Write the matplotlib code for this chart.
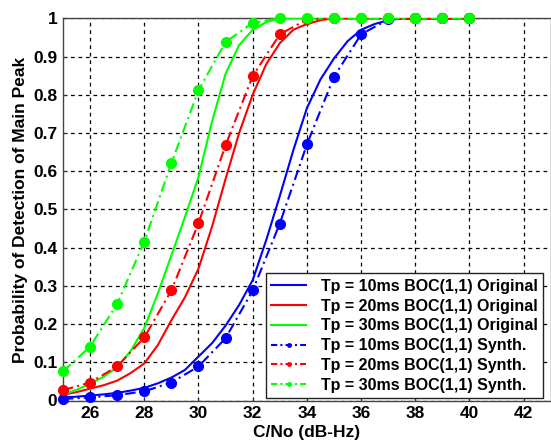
import matplotlib
matplotlib.use("Agg")
import matplotlib.pyplot as plt
from matplotlib.lines import Line2D

plt.rcParams['font.family'] = ['Liberation Sans', 'DejaVu Sans']

# Synthesized (markers every 1 dB)
x_syn = [25, 26, 27, 28, 29, 30, 31, 32, 33, 34, 35, 36, 37, 38, 39, 40]
blue_syn = [0.004, 0.008, 0.014, 0.024, 0.047, 0.089, 0.163, 0.288, 0.463, 0.670,
            0.847, 0.958, 0.997, 1.0, 1.0, 1.0]
red_syn = [0.027, 0.047, 0.089, 0.165, 0.288, 0.464, 0.668, 0.849, 0.958, 0.997,
           1.0, 1.0, 1.0, 1.0, 1.0, 1.0]
green_syn = [0.076, 0.141, 0.253, 0.416, 0.621, 0.812, 0.938, 0.988, 1.0, 1.0,
             1.0, 1.0, 1.0, 1.0, 1.0, 1.0]

# Original curves (0.5 dB steps)
x_orig = [25, 25.5, 26, 26.5, 27, 27.5, 28, 28.5, 29, 29.5, 30, 30.5, 31, 31.5,
          32, 32.5, 33, 33.5, 34, 34.5, 35, 35.5, 36, 36.5, 37, 37.5, 38, 39, 40]
blue_orig = [0.008, 0.010, 0.013, 0.016, 0.020, 0.026, 0.033, 0.045, 0.060, 0.080,
             0.115, 0.150, 0.196, 0.250, 0.315, 0.420, 0.535, 0.655, 0.765, 0.840,
             0.895, 0.940, 0.970, 0.985, 0.995, 1.0, 1.0, 1.0, 1.0]
red_orig = [0.015, 0.022, 0.031, 0.040, 0.052, 0.072, 0.097, 0.145, 0.210, 0.270,
            0.345, 0.455, 0.580, 0.700, 0.800, 0.880, 0.935, 0.970, 0.985, 0.995,
            1.0, 1.0, 1.0, 1.0, 1.0, 1.0, 1.0, 1.0, 1.0]
green_orig = [0.015, 0.028, 0.044, 0.062, 0.087, 0.130, 0.190, 0.280, 0.380, 0.480,
              0.585, 0.730, 0.855, 0.930, 0.970, 0.990, 1.0, 1.0, 1.0, 1.0,
              1.0, 1.0, 1.0, 1.0, 1.0, 1.0, 1.0, 1.0, 1.0]

labels_orig = ["Tp = 10ms BOC(1,1) Original", "Tp = 20ms BOC(1,1) Original",
               "Tp = 30ms BOC(1,1) Original"]
labels_syn = ["Tp = 10ms BOC(1,1) Synth.", "Tp = 20ms BOC(1,1) Synth.",
              "Tp = 30ms BOC(1,1) Synth."]
colors = ["#0000ff", "#ff0000", "#00ff00"]

xticks = [26, 28, 30, 32, 34, 36, 38, 40, 42]
yticks = [0, 0.1, 0.2, 0.3, 0.4, 0.5, 0.6, 0.7, 0.8, 0.9, 1]
ytick_labels = ["0", "0.1", "0.2", "0.3", "0.4", "0.5", "0.6", "0.7", "0.8", "0.9", "1"]

fig = plt.figure(figsize=(5.51, 4.43), dpi=100)
ax_w = 487.8 / 551
ax = fig.add_axes([63 / 551, 42.5 / 443, ax_w, 382.2 / 443])

for y, c in zip([blue_orig, red_orig, green_orig], colors):
    ax.plot(x_orig, y, color=c, lw=1.5, zorder=3)
for y, c in zip([blue_syn, red_syn, green_syn], colors):
    ax.plot(x_syn, y, color=c, lw=1.5, ls=(0, (5, 2, 1, 2)), zorder=3)
    ax.plot(x_syn, y, color=c, ls='none', marker='o', ms=7, zorder=4, clip_on=False)

ax.set_xlim(25, 43)
ax.set_ylim(0, 1)
ax.set_xticks(xticks)
ax.set_yticks(yticks)
ax.set_yticklabels(ytick_labels)
ax.tick_params(direction='in', length=3, width=0.8, labelsize=12.5, pad=4, color='#333333')
for lab in ax.get_xticklabels() + ax.get_yticklabels():
    lab.set_fontweight('bold')
ax.grid(True, color='black', ls=(0, (3, 3)), lw=0.9)
for s in ax.spines.values():
    s.set_color('#444444')
    s.set_linewidth(1.0)

ax.set_xlabel("C/No (dB-Hz)", fontsize=12.5, fontweight='bold', labelpad=3)
ax.set_ylabel("Probability of Detection of Main Peak", fontsize=12.5, fontweight='bold', labelpad=4)

handles = [Line2D([], [], color=c, lw=1.5) for c in colors] + \
          [Line2D([], [], color=c, lw=1.5, ls=(0, (3, 1.5, 1, 1.5)), marker='.', ms=5) for c in colors]
right_anchor = (543.3 - 63) / 487.8
leg = ax.legend(handles, labels_orig + labels_syn, loc='lower right',
                bbox_to_anchor=(right_anchor, (400.5 - 398.3) / 382.2),
                prop={'weight': 'bold', 'size': 11.5}, frameon=True, fancybox=False,
                edgecolor='#222222', framealpha=1, handlelength=2.2, handletextpad=0.9,
                labelspacing=0.3, borderpad=0.35, borderaxespad=0)
leg.get_frame().set_linewidth(1.0)

fig.savefig("out.png", dpi=100)
